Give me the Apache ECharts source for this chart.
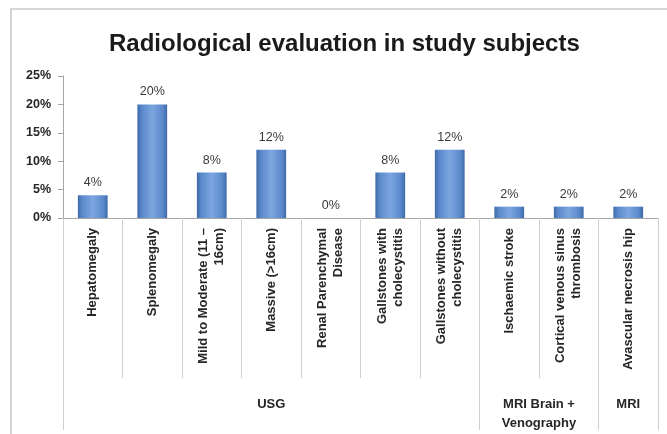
<!DOCTYPE html>
<html>
<head>
<meta charset="utf-8">
<script src="https://cdn.jsdelivr.net/npm/echarts@6/dist/echarts.min.js"></script>
<style>html,body{margin:0;padding:0;background:#fff}#c{width:667px;height:434px}</style>
</head>
<body>
<div id="c"></div>
<script>
var categories = [
  'Hepatomegaly',
  'Splenomegaly',
  'Mild to Moderate (11 –\n16cm)',
  'Massive (>16cm)',
  'Renal Parenchymal\nDisease',
  'Gallstones with\ncholecystitis',
  'Gallstones without\ncholecystitis',
  'Ischaemic stroke',
  'Cortical venous sinus\nthrombosis',
  'Avascular necrosis hip'
];
var values = [4, 20, 8, 12, 0, 8, 12, 2, 2, 2];
var groupNames = ['USG', 'MRI Brain +\nVenography', 'MRI'];
var groupBounds = [0, 7, 9, 10];
var yTicks = [0, 5, 10, 15, 20, 25];

var groupCenters = [];
for (var i = 0; i < groupNames.length; i++) {
  groupCenters.push((groupBounds[i] + groupBounds[i + 1]) / 2);
}

var FONT = 'Liberation Sans';
var chart = echarts.init(document.getElementById('c'));
chart.setOption({
  animation: false,
  backgroundColor: '#fff',
  title: {
    text: 'Radiological evaluation in study subjects',
    left: 104, top: 27,
    textStyle: { fontFamily: FONT, fontSize: 24, fontWeight: 'bold', color: '#1a1a1a' }
  },
  graphic: [{
    type: 'rect', shape: { x: 11, y: 9, width: 700, height: 500 },
    style: { fill: 'none', stroke: '#c8c8c8', lineWidth: 1.5 }, silent: true, z: -1
  }],
  grid: { left: 63, right: 9, top: 76, bottom: 216, containLabel: false },
  xAxis: [{
    type: 'category',
    data: categories,
    axisLine: { lineStyle: { color: '#a6a6a6' } },
    axisTick: { show: true, alignWithLabel: false, length: 160, lineStyle: { color: '#cfcfcf' } },
    axisLabel: {
      interval: 0, rotate: 90, margin: 10,
      fontFamily: FONT, fontSize: 13, fontWeight: 'bold', color: '#262626', lineHeight: 16
    }
  }, {
    type: 'value',
    position: 'bottom',
    offset: 160,
    min: 0, max: 10,
    axisLine: { show: false },
    splitLine: { show: false },
    axisTick: { show: true, customValues: groupBounds, length: 52, lineStyle: { color: '#cfcfcf' } },
    axisLabel: {
      customValues: groupCenters, margin: 17,
      fontFamily: FONT, fontSize: 13, fontWeight: 'bold', color: '#262626', lineHeight: 19,
      formatter: function (v) {
        for (var i = 0; i < groupCenters.length; i++) {
          if (Math.abs(groupCenters[i] - v) < 1e-6) return groupNames[i];
        }
        return '';
      }
    }
  }],
  yAxis: {
    type: 'value', min: 0, max: 25, interval: 5,
    axisLine: { show: true, lineStyle: { color: '#a6a6a6' } },
    axisTick: { show: true, length: 5, lineStyle: { color: '#a6a6a6' } },
    splitLine: { show: false },
    axisLabel: {
      margin: 12, fontFamily: FONT, fontSize: 12.5, fontWeight: 'bold', color: '#262626',
      customValues: yTicks,
      formatter: '{value}%'
    }
  },
  series: [{
    type: 'bar',
    xAxisIndex: 0,
    data: values,
    barWidth: '50%',
    itemStyle: {
      color: new echarts.graphic.LinearGradient(0, 0, 1, 0, [
        { offset: 0, color: '#3f6aa9' },
        { offset: 0.15, color: '#5a89cc' },
        { offset: 0.5, color: '#7ca6df' },
        { offset: 0.85, color: '#5a89cc' },
        { offset: 1, color: '#3f6aa9' }
      ]),
      borderWidth: 0
    },
    label: {
      show: true, position: 'top', distance: 6,
      fontFamily: FONT, fontSize: 12.5, color: '#3a3a3a',
      formatter: '{c}%'
    }
  }]
});
</script>
</body>
</html>
